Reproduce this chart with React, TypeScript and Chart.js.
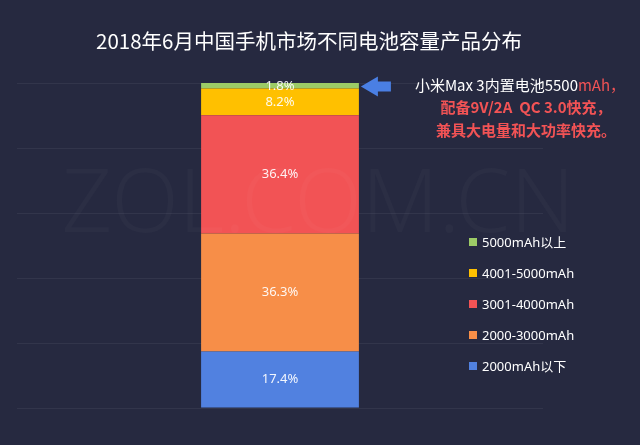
import React, { useEffect, useRef } from "react";
import { Chart, registerables } from "chart.js";

Chart.register(...registerables);

const categories = ["2018年6月"];
const seriesLabels = ["2000mAh以下", "2000-3000mAh", "3001-4000mAh", "4001-5000mAh", "5000mAh以上"];
const seriesValues = [[17.4], [36.3], [36.4], [8.2], [1.8]];
const seriesColors = ["#5181e0", "#f78e48", "#f25355", "#ffc000", "#9ccb66"];
const yTicks = [0, 20, 40, 60, 80, 100];
const titleText = "2018年6月中国手机市场不同电池容量产品分布";
const noteLine1a = "小米Max 3内置电池5500";
const noteLine1b = "mAh，";
const noteLine2 = "配备9V/2A  QC 3.0快充，";
const noteLine3 = "兼具大电量和大功率快充。";
const watermark = "ZOL.COM.CN";

const BG = "#262940";

const decorPlugin = {
  id: "decor",
  beforeDraw(chart: any) {
    const { ctx, width, height } = chart;
    ctx.save();
    ctx.fillStyle = BG;
    ctx.fillRect(0, 0, width, height);
    ctx.restore();
  },
  afterDatasetsDraw(chart: any) {
    const { ctx } = chart;
    ctx.save();
    ctx.font = "13px 'Noto Sans', 'Noto Sans CJK SC', sans-serif";
    ctx.fillStyle = "rgba(255,255,255,0.92)";
    ctx.textAlign = "center";
    ctx.textBaseline = "middle";
    chart.data.datasets.forEach((ds: any, i: number) => {
      const meta = chart.getDatasetMeta(i);
      meta.data.forEach((bar: any, j: number) => {
        const v = ds.data[j];
        let y = (bar.y + bar.base) / 2;
        if (i === chart.data.datasets.length - 1) y = bar.base - 2;
        ctx.fillText(v.toFixed(1) + "%", bar.x, y);
      });
    });
    ctx.restore();
  },
  afterDraw(chart: any) {
    const { ctx } = chart;
    ctx.save();
    // title
    ctx.fillStyle = "#ffffff";
    ctx.font = "20.5px 'Noto Sans CJK SC', sans-serif";
    ctx.textAlign = "center";
    ctx.textBaseline = "middle";
    ctx.fillText(titleText, 309, 41);

    // watermark
    ctx.font = "300 88px 'Noto Sans', sans-serif";
    ctx.fillStyle = "rgba(255,255,255,0.022)";
    ctx.fillText(watermark, 318, 207);

    // legend (reversed)
    const n = chart.data.datasets.length;
    ctx.font = "13px 'Noto Sans', 'Noto Sans CJK SC', sans-serif";
    ctx.textAlign = "left";
    for (let k = 0; k < n; k++) {
      const idx = n - 1 - k;
      const ds = chart.data.datasets[idx];
      const y = 242 + k * 31;
      ctx.fillStyle = ds.backgroundColor;
      ctx.fillRect(469, y - 4, 8, 8);
      ctx.fillStyle = "#ffffff";
      ctx.fillText(ds.label, 482, y + 1);
    }

    // arrow pointing to top segment
    const topMeta = chart.getDatasetMeta(n - 1).data[0] as any;
    const ay = (topMeta.y + topMeta.base) / 2 + 1;
    const ax = topMeta.x + topMeta.width / 2 + 2;
    ctx.fillStyle = "#4a7fe4";
    ctx.beginPath();
    ctx.moveTo(ax, ay);
    ctx.lineTo(ax + 17, ay - 10);
    ctx.lineTo(ax + 17, ay - 5);
    ctx.lineTo(ax + 30, ay - 5);
    ctx.lineTo(ax + 30, ay + 5);
    ctx.lineTo(ax + 17, ay + 5);
    ctx.lineTo(ax + 17, ay + 10);
    ctx.closePath();
    ctx.fill();

    // note text
    ctx.textBaseline = "middle";
    ctx.font = "15px 'Noto Sans CJK SC', sans-serif";
    const w1 = ctx.measureText(noteLine1a).width;
    const w2 = ctx.measureText(noteLine1b).width;
    const startX = 520 - (w1 + w2) / 2;
    ctx.textAlign = "left";
    ctx.fillStyle = "#ffffff";
    ctx.fillText(noteLine1a, startX, 85);
    ctx.fillStyle = "#f25355";
    ctx.fillText(noteLine1b, startX + w1, 85);
    ctx.font = "bold 15px 'Noto Sans CJK SC', sans-serif";
    ctx.textAlign = "center";
    ctx.fillText(noteLine2, 526, 107);
    ctx.fillText(noteLine3, 526, 130);
    ctx.restore();
  },
};

export default function App() {
  const ref = useRef<HTMLCanvasElement | null>(null);
  useEffect(() => {
    if (!ref.current) return;
    const chart = new Chart(ref.current, {
      type: "bar",
      data: {
        labels: categories,
        datasets: seriesLabels.map((l, i) => ({
          label: l,
          data: seriesValues[i],
          backgroundColor: seriesColors[i],
          borderWidth: 0,
          barPercentage: 0.3,
          categoryPercentage: 1,
        })),
      },
      options: {
        animation: false,
        responsive: false,
        devicePixelRatio: 1,
        layout: { padding: { left: 17, right: 97, top: 83, bottom: 37 } },
        plugins: { legend: { display: false }, title: { display: false }, tooltip: { enabled: false } },
        scales: {
          x: { stacked: true, display: false },
          y: {
            stacked: true,
            min: yTicks[0],
            max: yTicks[yTicks.length - 1],
            afterBuildTicks: (axis: any) => {
              axis.ticks = yTicks.map((v) => ({ value: v }));
            },
            ticks: { display: false },
            border: { display: false },
            grid: { color: "rgba(255,255,255,0.06)", drawTicks: false, lineWidth: 1 },
          },
        },
      },
      plugins: [decorPlugin],
    });
    return () => chart.destroy();
  }, []);
  return (
    <div style={{ position: "fixed", left: 0, top: 0, width: 640, height: 445, background: BG }}>
      <canvas ref={ref} width={640} height={445} style={{ width: 640, height: 445, display: "block" }} />
    </div>
  );
}
